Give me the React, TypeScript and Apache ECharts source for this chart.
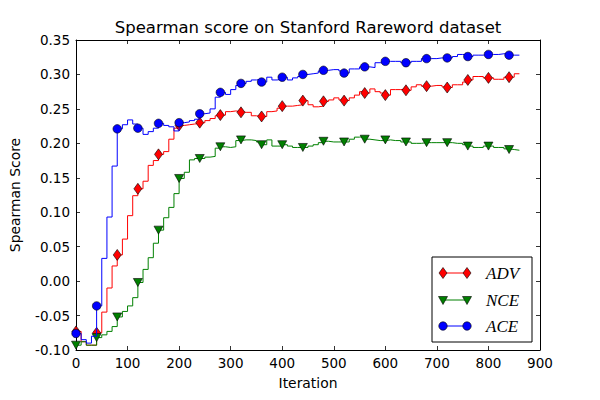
import React, { useEffect, useRef } from 'react';
import * as echarts from 'echarts';

const ITERATIONS = [
  0, 10, 20, 30, 40, 50, 60, 70, 80, 90,
  100, 110, 120, 130, 140, 150, 160, 170, 180, 190,
  200, 210, 220, 230, 240, 250, 260, 270, 280, 290,
  300, 310, 320, 330, 340, 350, 360, 370, 380, 390,
  400, 410, 420, 430, 440, 450, 460, 470, 480, 490,
  500, 510, 520, 530, 540, 550, 560, 570, 580, 590,
  600, 610, 620, 630, 640, 650, 660, 670, 680, 690,
  700, 710, 720, 730, 740, 750, 760, 770, 780, 790,
  800, 810, 820, 830, 840, 850, 860,
];

const ADV = [
  -0.073, -0.088, -0.093, -0.093, -0.075, -0.045, -0.010, 0.022, 0.038, 0.061,
  0.095, 0.124, 0.134, 0.145, 0.168, 0.175, 0.184, 0.188, 0.206, 0.222,
  0.226, 0.227, 0.228, 0.229, 0.230, 0.233, 0.236, 0.240, 0.241, 0.246,
  0.247, 0.246, 0.245, 0.245, 0.240, 0.239, 0.239, 0.246, 0.247, 0.251,
  0.254, 0.254, 0.255, 0.256, 0.262, 0.256, 0.253, 0.254, 0.261, 0.263,
  0.266, 0.263, 0.262, 0.266, 0.270, 0.275, 0.273, 0.279, 0.275, 0.273,
  0.270, 0.278, 0.278, 0.279, 0.277, 0.282, 0.285, 0.283, 0.283, 0.284,
  0.284, 0.282, 0.281, 0.285, 0.285, 0.289, 0.292, 0.297, 0.297, 0.295,
  0.295, 0.293, 0.293, 0.296, 0.296, 0.301, 0.301,
];

const NCE = [
  -0.093, -0.088, -0.093, -0.093, -0.082, -0.078, -0.073, -0.066, -0.052, -0.044,
  -0.036, -0.024, -0.002, 0.017, 0.034, 0.055, 0.074, 0.092, 0.107, 0.127,
  0.149, 0.158, 0.176, 0.178, 0.178, 0.180, 0.181, 0.193, 0.195, 0.194,
  0.195, 0.204, 0.205, 0.205, 0.204, 0.202, 0.198, 0.205, 0.196, 0.196,
  0.198, 0.196, 0.194, 0.194, 0.194, 0.196, 0.198, 0.201, 0.203, 0.202,
  0.202, 0.202, 0.202, 0.206, 0.209, 0.210, 0.206, 0.205, 0.204, 0.204,
  0.205, 0.204, 0.204, 0.202, 0.202, 0.200, 0.200, 0.201, 0.201, 0.201,
  0.201, 0.201, 0.201, 0.200, 0.200, 0.198, 0.196, 0.194, 0.194, 0.196,
  0.196, 0.194, 0.194, 0.192, 0.191, 0.190, 0.190,
];

const ACE = [
  -0.076, -0.085, -0.090, -0.080, -0.036, 0.033, 0.093, 0.167, 0.221, 0.227,
  0.234, 0.228, 0.222, 0.213, 0.217, 0.222, 0.229, 0.226, 0.224, 0.218,
  0.230, 0.231, 0.233, 0.235, 0.243, 0.244, 0.250, 0.267, 0.274, 0.271,
  0.278, 0.284, 0.287, 0.290, 0.292, 0.293, 0.289, 0.296, 0.292, 0.293,
  0.296, 0.292, 0.295, 0.297, 0.300, 0.301, 0.302, 0.305, 0.306, 0.307,
  0.307, 0.305, 0.302, 0.308, 0.308, 0.311, 0.311, 0.310, 0.317, 0.317,
  0.319, 0.319, 0.319, 0.317, 0.317, 0.319, 0.319, 0.323, 0.323, 0.323,
  0.324, 0.324, 0.324, 0.326, 0.329, 0.329, 0.326, 0.328, 0.328, 0.329,
  0.329, 0.329, 0.330, 0.330, 0.328, 0.328, 0.328,
];

const SERIES_NAMES = ['ADV', 'NCE', 'ACE'];
const MARKER_EVERY = 4;

const RED = '#ff0000';
const GREEN = '#008000';
const BLUE = '#0000ff';
const FONT = 'DejaVu Sans';

function pairs(vals: number[]) {
  return ITERATIONS.map((x, i) => [x, vals[i]]);
}
function markers(vals: number[]) {
  return pairs(vals).filter((_, i) => i % MARKER_EVERY === 0);
}

const tickStyle = { inside: true, length: 4, lineStyle: { color: '#000', width: 0.8 } };
const lineAxis = { show: true, onZero: false, lineStyle: { color: '#000', width: 1 } };

export default function App() {
  const ref = useRef<HTMLDivElement>(null);
  useEffect(() => {
    if (!ref.current) return;
    const chart = echarts.init(ref.current, undefined, { renderer: 'svg' });

    const defs = [
      { name: SERIES_NAMES[0], vals: ADV, color: RED, symbol: 'diamond', size: [8, 11], rotate: 0 },
      { name: SERIES_NAMES[1], vals: NCE, color: GREEN, symbol: 'triangle', size: [9, 8], rotate: 180 },
      { name: SERIES_NAMES[2], vals: ACE, color: BLUE, symbol: 'circle', size: 8.5, rotate: 0 },
    ];

    const series: any[] = [];
    defs.forEach((d, k) => {
      series.push({
        type: 'line',
        name: d.name,
        data: pairs(d.vals),
        step: 'end',
        symbol: 'none',
        showSymbol: false,
        silent: true,
        lineStyle: { color: d.color, width: 1 },
        z: 2 + k * 2,
      });
      series.push({
        type: 'scatter',
        name: d.name,
        data: markers(d.vals),
        symbol: d.symbol,
        symbolSize: d.size,
        symbolRotate: d.rotate,
        silent: true,
        itemStyle: { color: d.color, borderColor: '#000', borderWidth: 0.6, opacity: 1 },
        z: 3 + k * 2,
      });
    });

    // legend drawn with graphic elements (matplotlib style)
    const lx = 432, ly = 257, lw = 100, lh = 85;
    const rowY = [273, 300, 326];
    const m1 = 443, m2 = 467;
    const legendEls: any[] = [
      {
        type: 'rect',
        shape: { x: lx, y: ly, width: lw, height: lh },
        style: { fill: '#fff', stroke: '#000', lineWidth: 1 },
        z: 100,
      },
    ];
    defs.forEach((d, k) => {
      const y = rowY[k];
      legendEls.push({
        type: 'line',
        shape: { x1: m1, y1: y, x2: m2, y2: y },
        style: { stroke: d.color, lineWidth: 1 },
        z: 101,
      });
      [m1, m2].forEach((cx) => {
        let el: any;
        if (d.symbol === 'diamond') {
          el = {
            type: 'polygon',
            shape: { points: [[cx, y - 5.5], [cx + 4, y], [cx, y + 5.5], [cx - 4, y]] },
          };
        } else if (d.symbol === 'triangle') {
          el = {
            type: 'polygon',
            shape: { points: [[cx - 4.5, y - 3.5], [cx + 4.5, y - 3.5], [cx, y + 4.5]] },
          };
        } else {
          el = { type: 'circle', shape: { cx, cy: y, r: 4.2 } };
        }
        el.style = { fill: d.color, stroke: '#000', lineWidth: 0.6 };
        el.z = 102;
        legendEls.push(el);
      });
      legendEls.push({
        type: 'text',
        x: 486,
        y: y,
        style: {
          text: d.name,
          fill: '#000',
          font: 'italic 17px "Liberation Serif"',
          textVerticalAlign: 'middle',
          verticalAlign: 'middle',
        },
        z: 102,
      });
    });

    const option: any = {
      animation: false,
      backgroundColor: '#fff',
      title: {
        text: 'Spearman score on Stanford Rareword dataset',
        left: 308,
        top: 19,
        textAlign: 'center',
        padding: 0,
        textStyle: { fontFamily: FONT, fontSize: 16.5, fontWeight: 'normal', color: '#000' },
      },
      grid: { left: 76, right: 60, top: 40, bottom: 50, containLabel: false },
      xAxis: [
        {
          type: 'value',
          position: 'bottom',
          min: 0,
          max: 900,
          interval: 100,
          name: 'Iteration',
          nameLocation: 'middle',
          nameGap: 26,
          nameTextStyle: { fontFamily: FONT, fontSize: 13.9, color: '#000' },
          axisLine: lineAxis,
          axisTick: tickStyle,
          splitLine: { show: false },
          axisLabel: {
            color: '#000',
            fontFamily: FONT,
            fontSize: 13.5,
            margin: 6,
            showMinLabel: true,
            showMaxLabel: true,
          },
        },
        {
          type: 'value',
          position: 'top',
          min: 0,
          max: 900,
          interval: 100,
          axisLine: lineAxis,
          axisTick: tickStyle,
          splitLine: { show: false },
          axisLabel: { show: false },
        },
      ],
      yAxis: [
        {
          type: 'value',
          position: 'left',
          min: -0.1,
          max: 0.35,
          interval: 0.05,
          name: 'Spearman Score',
          nameLocation: 'middle',
          nameGap: 54,
          nameTextStyle: { fontFamily: FONT, fontSize: 13.9, color: '#000' },
          axisLine: lineAxis,
          axisTick: tickStyle,
          splitLine: { show: false },
          axisLabel: {
            color: '#000',
            fontFamily: FONT,
            fontSize: 13.5,
            margin: 6,
            showMinLabel: true,
            showMaxLabel: true,
            formatter: (v: number) => (Math.abs(v) < 1e-9 ? '0.00' : v.toFixed(2)),
          },
        },
        {
          type: 'value',
          position: 'right',
          min: -0.1,
          max: 0.35,
          interval: 0.05,
          axisLine: lineAxis,
          axisTick: tickStyle,
          splitLine: { show: false },
          axisLabel: { show: false },
        },
      ],
      series,
      graphic: legendEls,
    };

    chart.setOption(option);
    return () => chart.dispose();
  }, []);

  return (
    <div
      ref={ref}
      style={{ position: 'fixed', left: 0, top: 0, width: 600, height: 400, background: '#fff' }}
    />
  );
}
